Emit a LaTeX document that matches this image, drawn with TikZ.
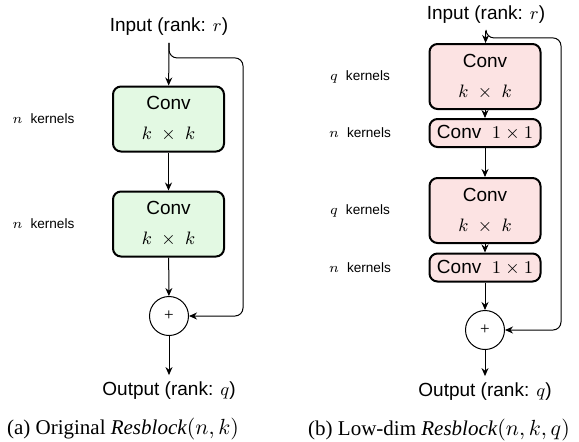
\documentclass[tikz,border=0pt]{standalone}
\usepackage{amsmath}
\usepackage{fontspec}
\setmainfont{Liberation Serif}
\setsansfont{Liberation Sans}
\usepackage{tikz}
\usetikzlibrary{arrows.meta}
\usetikzlibrary{positioning}

\definecolor{convgreen}{HTML}{E3F9E3}
\definecolor{convpink}{HTML}{FCE3E3}

\begin{document}
\begin{tikzpicture}[x=0.5pt, y=-0.5pt,
    every node/.style={font=\sffamily\fontsize{9.5}{11}\selectfont},
    conv/.style={draw, line width=1pt, rounded corners=4pt, minimum width=55.5pt, align=center, inner sep=0pt},
    bigconv/.style={conv, minimum height=32.5pt},
    smallconv/.style={conv, minimum height=14pt},
    sum/.style={circle, draw, line width=0.5pt, minimum size=19.5pt, inner sep=0pt, font=\fontsize{8.5}{9}\selectfont},
    kern/.style={font=\sffamily\fontsize{6.8}{8}\selectfont},
    subcap/.style={font=\rmfamily\fontsize{10.5}{12}\selectfont},
    flow/.style={-{Stealth[length=4pt, width=3.5pt]}, line width=0.5pt},
    skip/.style={flow, rounded corners=4pt}]
        \useasboundingbox (0,0) rectangle (579,441);

        % original block
        \node (in1) at (169,27) {Input (rank: $r$)};
        \node[bigconv, fill=convgreen] (c1) at (168.5,119) {Conv\\[4pt]$k\ \times\ k$};
        \node[bigconv, fill=convgreen] (c2) at (168.5,224) {Conv\\[4pt]$k\ \times\ k$};
        \node[sum] (add1) at (169,316) {+};
        \node (out1) at (169,391) {Output (rank: $q$)};

        \node[kern] (k1) at (43.5,119) {$n$\hspace{4pt}kernels};
        \node[kern] (k2) at (43.5,224) {$n$\hspace{4pt}kernels};

        \draw[flow] (in1) -- (c1);
        \draw[flow] (c1) -- (c2);
        \draw[flow] (c2) -- (add1);
        \draw[flow] (add1) -- (out1);
        \draw[skip] (in1.south) -- ++(0,15) -- ++(74,0) |- (add1.east);

        \node[subcap] (capa) at (123,429) {(a) Original \textit{Resblock}$(n,k)$};

        % low-dim block
        \node (in2) at (486,15) {Input (rank: $r$)};
        \node[bigconv, fill=convpink] (c3) at (485,76.5) {Conv\\[4pt]$k\ \times\ k$};
        \node[smallconv, fill=convpink] (c4) at (485,133) {Conv\ \ $1\times 1$};
        \node[bigconv, fill=convpink] (c5) at (485,210.5) {Conv\\[4pt]$k\ \times\ k$};
        \node[smallconv, fill=convpink] (c6) at (485,267.5) {Conv\ \ $1\times 1$};
        \node[sum] (add2) at (485,330) {+};
        \node (out2) at (485,392) {Output (rank: $q$)};

        \node[kern] (k3) at (360,77) {$q$\hspace{4pt}kernels};
        \node[kern] (k4) at (360,133) {$n$\hspace{4pt}kernels};
        \node[kern] (k5) at (360,210.5) {$q$\hspace{4pt}kernels};
        \node[kern] (k6) at (360,267.5) {$n$\hspace{4pt}kernels};

        \draw[flow] (in2) -- (c3);
        \draw[flow] (c3) -- (c4);
        \draw[flow] (c4) -- (c5);
        \draw[flow] (c5) -- (c6);
        \draw[flow] (c6) -- (add2);
        \draw[flow] (add2) -- (out2);
        \draw[skip] (in2.south) -- ++(0,7) -- ++(75,0) |- (add2.east);

        \node[subcap] (capb) at (439,430) {(b) Low-dim \textit{Resblock}$(n,k,q)$};
\end{tikzpicture}
\end{document}
